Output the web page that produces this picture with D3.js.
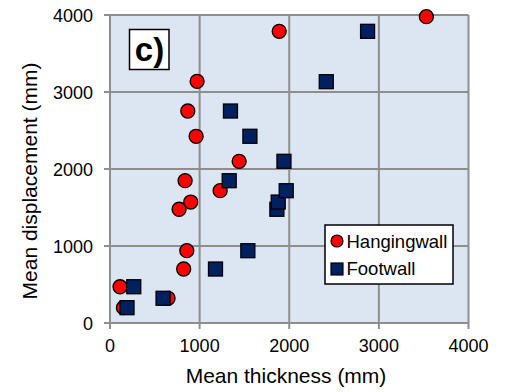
<!doctype html>
<html lang="en">
<head>
<meta charset="utf-8">
<title>Mean displacement vs thickness</title>
<script src="https://d3js.org/d3.v7.min.js"></script>
<style>
  body { margin: 0; background: #fff; }
  text { font-family: Arial, "Liberation Sans", sans-serif; fill: #000; }
</style>
</head>
<body>
<div class="chart-container"></div>
<script>
  // thickness (mm), displacement (mm)
  const hangingThickness = [150, 648, 112, 822, 857, 771, 901, 1229, 838, 1441, 961, 868, 972, 1888, 3530];
  const hangingDisplacement = [199, 321, 471, 701, 939, 1477, 1571, 1718, 1848, 2100, 2425, 2753, 3139, 3788, 3978];
  const footThickness = [190, 592, 265, 1177, 1538, 1862, 1877, 1966, 1330, 1941, 1561, 1344, 2413, 2874];
  const footDisplacement = [199, 321, 471, 701, 939, 1477, 1571, 1718, 1848, 2100, 2425, 2753, 3134, 3788];
  const ticks = [0, 1000, 2000, 3000, 4000];

  const width = 513;
  const height = 392;
  const margin = { top: 15, right: 44.5, bottom: 69, left: 110 };

  const svg = d3.select('.chart-container').append('svg')
    .attr('width', width)
    .attr('height', height);

  const x = d3.scaleLinear()
    .domain([0, 4000])
    .range([margin.left, width - margin.right]);

  const y = d3.scaleLinear()
    .domain([0, 4000])
    .range([height - margin.bottom, margin.top]);

  const gridColour = '#8e8e8e';

  // plot background
  svg.append('rect')
    .attr('x', x(0))
    .attr('y', y(4000))
    .attr('width', x(4000) - x(0))
    .attr('height', y(0) - y(4000))
    .style('fill', '#dce6f2');

  // grid
  const grid = svg.append('g').attr('class', 'grid');
  grid.selectAll('line.v')
    .data(ticks)
    .enter()
    .append('line')
    .attr('x1', d => x(d)).attr('x2', d => x(d))
    .attr('y1', y(0) + 6).attr('y2', y(4000))
    .style('stroke', gridColour).style('stroke-width', 2);
  grid.selectAll('line.h')
    .data(ticks)
    .enter()
    .append('line')
    .attr('x1', x(0) - 6).attr('x2', x(4000))
    .attr('y1', d => y(d)).attr('y2', d => y(d))
    .style('stroke', gridColour).style('stroke-width', 2);

  // tick labels
  svg.append('g').selectAll('text')
    .data(ticks)
    .enter()
    .append('text')
    .attr('x', d => x(d))
    .attr('y', y(0) + 29)
    .style('text-anchor', 'middle')
    .style('font-size', '18px')
    .text(d => d);

  svg.append('g').selectAll('text')
    .data(ticks)
    .enter()
    .append('text')
    .attr('x', x(0) - 17)
    .attr('y', d => y(d) + 6.5)
    .style('text-anchor', 'end')
    .style('font-size', '18px')
    .text(d => d);

  // axis titles
  svg.append('text')
    .attr('x', 286)
    .attr('y', 383)
    .style('text-anchor', 'middle')
    .style('font-size', '21px')
    .text('Mean thickness (mm)');

  svg.append('text')
    .attr('transform', 'translate(37, 181) rotate(-90)')
    .style('text-anchor', 'middle')
    .style('font-size', '21px')
    .text('Mean displacement (mm)');

  // panel label
  svg.append('rect')
    .attr('x', 129.5).attr('y', 29.5)
    .attr('width', 39.5).attr('height', 40)
    .style('fill', '#fff').style('stroke', '#000').style('stroke-width', 1.5);
  svg.append('text')
    .attr('x', 149.5).attr('y', 61)
    .style('text-anchor', 'middle')
    .style('font-size', '33px')
    .style('font-weight', 'bold')
    .text('c)');

  const hanging = hangingThickness.map((t, i) => ({ t: t, d: hangingDisplacement[i] }));
  const foot = footThickness.map((t, i) => ({ t: t, d: footDisplacement[i] }));

  svg.append('g').selectAll('circle')
    .data(hanging)
    .enter()
    .append('circle')
    .attr('cx', d => x(d.t))
    .attr('cy', d => y(d.d))
    .attr('r', 7)
    .style('fill', '#ff0000')
    .style('stroke', '#000')
    .style('stroke-width', 1.3);

  const sq = 14;
  svg.append('g').selectAll('rect')
    .data(foot)
    .enter()
    .append('rect')
    .attr('x', d => x(d.t) - sq / 2)
    .attr('y', d => y(d.d) - sq / 2)
    .attr('width', sq)
    .attr('height', sq)
    .style('fill', '#002060')
    .style('stroke', '#000')
    .style('stroke-width', 1.3);

  // legend
  const legend = svg.append('g').attr('class', 'legend');
  legend.append('rect')
    .attr('x', 325).attr('y', 225)
    .attr('width', 128).attr('height', 59)
    .style('fill', '#fff').style('stroke', '#000').style('stroke-width', 1.5);
  legend.append('circle')
    .attr('cx', 337).attr('cy', 241).attr('r', 6)
    .style('fill', '#ff0000').style('stroke', '#000').style('stroke-width', 1.2);
  legend.append('rect')
    .attr('x', 331).attr('y', 263).attr('width', 12).attr('height', 12)
    .style('fill', '#002060').style('stroke', '#000').style('stroke-width', 1.2);
  legend.append('text')
    .attr('x', 346.5).attr('y', 247.5)
    .style('font-size', '18.5px')
    .text('Hangingwall');
  legend.append('text')
    .attr('x', 346.5).attr('y', 275)
    .style('font-size', '18.5px')
    .text('Footwall');
</script>
</body>
</html>
